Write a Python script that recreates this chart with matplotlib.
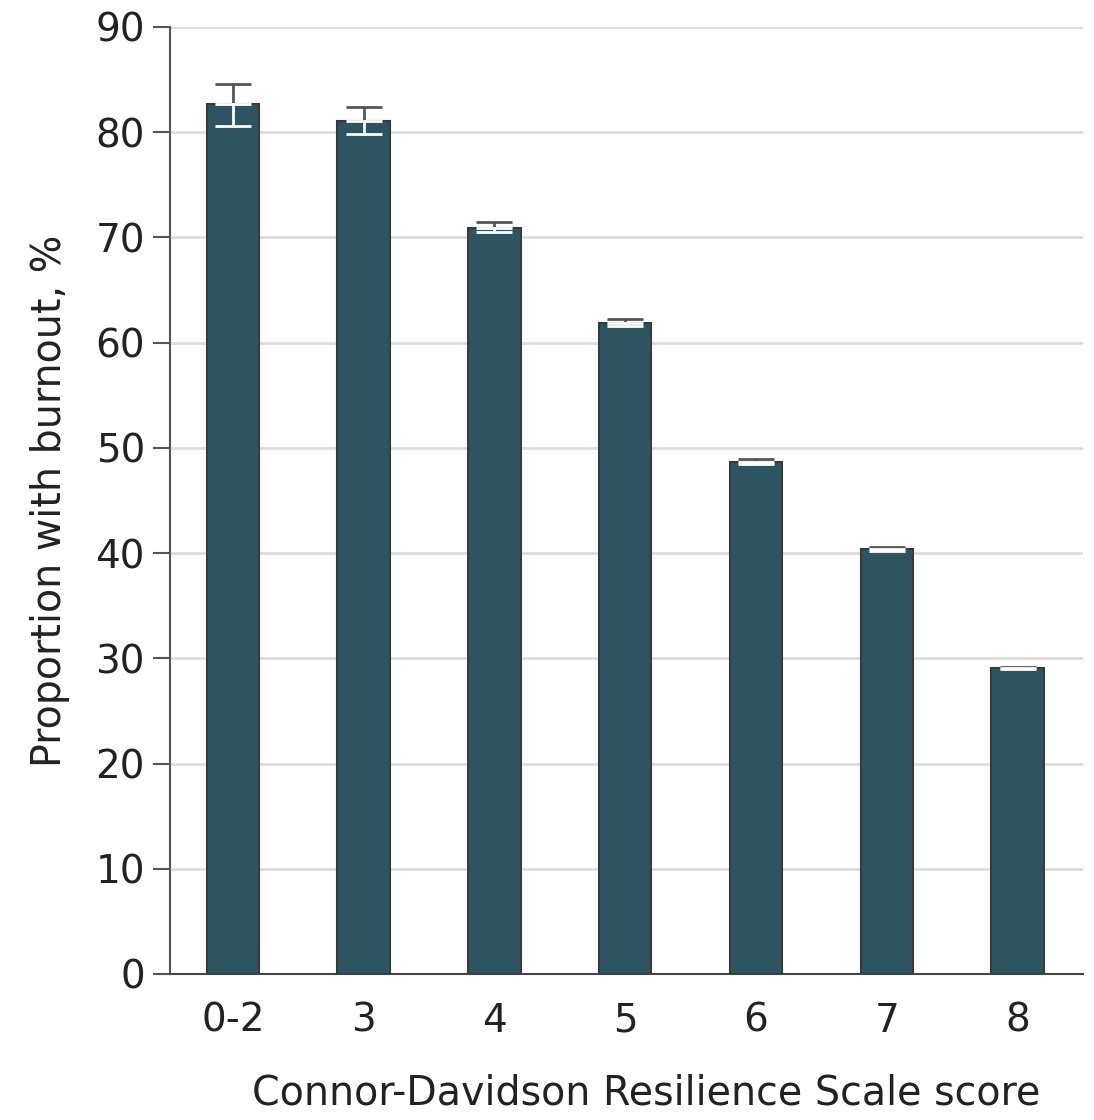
import matplotlib
matplotlib.use("Agg")
import matplotlib.pyplot as plt

categories = ["0-2", "3", "4", "5", "6", "7", "8"]
values = [82.7, 81.1, 70.9, 61.9, 48.7, 40.4, 29.1]
ci_upper = [84.6, 82.4, 71.5, 62.2, 48.9, 40.6, 29.2]
ci_lower = [80.6, 79.8, 70.5, 61.6, 48.5, 40.2, 29.0]
yticks = [0, 10, 20, 30, 40, 50, 60, 70, 80, 90]

plt.rcParams['font.family'] = ['DejaVu Sans']
fig = plt.figure(figsize=(10.94, 11.2), dpi=100)
ax = fig.add_axes([0.1554, 0.1304, 0.8346, 0.8455])

x = list(range(len(categories)))
ax.bar(x, values, width=0.4, color="#2f5461", edgecolor="#3a3a3a", linewidth=1.5, zorder=3)

up = [u - v for u, v in zip(ci_upper, values)]
lo = [v - l for v, l in zip(values, ci_lower)]
zeros = [0] * len(values)
ax.errorbar(x, values, yerr=[zeros, up], fmt="none", ecolor="#555555",
            elinewidth=2, capsize=13, capthick=2, zorder=4)
ax.errorbar(x, values, yerr=[lo, zeros], fmt="none", ecolor="white",
            elinewidth=2, capsize=13, capthick=2, zorder=4)

ax.set_xlim(-0.48, 6.5)
ax.set_ylim(0, 90)
ax.set_yticks(yticks)
ax.set_xticks(x)
ax.set_xticklabels(categories)
ax.yaxis.grid(True, color="#dddddd", linewidth=2, zorder=0)
ax.set_axisbelow(True)

for s in ["top", "right"]:
    ax.spines[s].set_visible(False)
ax.spines["left"].set_color("#555555")
ax.spines["left"].set_linewidth(1.5)
ax.spines["bottom"].set_color("#444444")
ax.spines["bottom"].set_linewidth(1.5)

ax.tick_params(axis="y", length=12, width=1.5, color="#555555", labelsize=28, pad=6, labelcolor="#222222")
ax.tick_params(axis="x", length=0, labelsize=28, pad=20, labelcolor="#222222")

ax.set_ylabel("Proportion with burnout, %", fontsize=28.5, color="#222222", labelpad=18)
ax.set_xlabel("Connor-Davidson Resilience Scale score", fontsize=28.5, color="#222222", labelpad=24)
ax.xaxis.label.set_x(0.522)

fig.savefig("out.png", dpi=100)
